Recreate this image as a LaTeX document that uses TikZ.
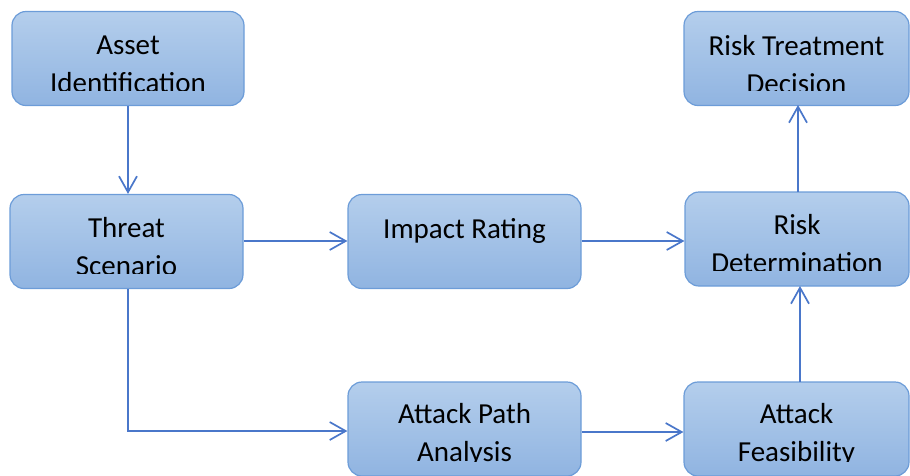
\documentclass[tikz,border=0pt]{standalone}
\usepackage{fontspec}
\setmainfont{Carlito}
\usetikzlibrary{arrows.meta}
\definecolor{boxtop}{HTML}{B4CEEC}
\definecolor{boxbot}{HTML}{90B4E1}
\definecolor{boxline}{HTML}{6C9CD8}
\definecolor{arrowcol}{HTML}{4A77CA}
\tikzset{
  box/.style={draw=boxline, line width=1.2pt, rounded corners=14pt, top color=boxtop, bottom color=boxbot, minimum width=#1, minimum height=94pt, inner sep=0pt},
  box/.default=232pt,
  txt/.style={font=\fontsize{29pt}{38pt}\selectfont, align=center, inner sep=0pt, text=black},
  conn/.style={draw=arrowcol, line width=1.7pt, -{Straight Barb[length=16pt,width=18pt,line width=1.7pt]}}
}
\begin{document}
\begin{tikzpicture}[x=1pt,y=-1pt]
\useasboundingbox (0,0) rectangle (910,475);
% boxes
\node[box=232pt] (asset) at (128,58.5) {};
\node[box=233pt] (threat) at (126.5,241.5) {};
\node[box=233pt] (impact) at (464.5,241.5) {};
\node[box=224pt] (riskdet) at (797,239) {};
\node[box=225pt] (risktreat) at (796.5,58.5) {};
\node[box=233pt] (apa) at (464.5,429) {};
\node[box=225pt] (feas) at (796.5,429) {};
% texts (clipped near box bottom)
\begin{scope}
\clip (0,0) rectangle (260,90);
\node[txt] (tasset) at (128,64.5) {Asset\\Identification};
\end{scope}
\begin{scope}
\clip (0,180) rectangle (260,273.5);
\node[txt] (tthreat) at (126.5,247) {Threat\\Scenario};
\end{scope}
\node[txt, anchor=base] (timpact) at (464.5,238.5) {Impact Rating};
\begin{scope}
\clip (670,180) rectangle (910,270);
\node[txt] (triskdet) at (797,244) {Risk\\Determination};
\end{scope}
\begin{scope}
\clip (670,0) rectangle (910,90);
\node[txt] (trisktreat) at (796.5,64.5) {Risk Treatment\\Decision};
\end{scope}
\begin{scope}
\clip (330,370) rectangle (600,461);
\node[txt] (tapa) at (464.5,434.5) {Attack Path\\Analysis};
\end{scope}
\begin{scope}
\clip (670,370) rectangle (910,461);
\node[txt] (tfeas) at (796.5,434.5) {Attack\\Feasibility};
\end{scope}
% connectors
\draw[conn] (asset.south) -- (asset.south |- threat.north);
\draw[conn] (threat.east |- 0,241) -- (impact.west |- 0,241);
\draw[conn] (impact.east |- 0,241) -- (riskdet.west |- 0,241);
\draw[conn] (128,289) -- (128,431) -- (apa.west |- 0,431);
\draw[conn] (apa.east |- 0,432) -- (feas.west |- 0,432);
\draw[conn] (800,382) -- (800,286);
\draw[conn] (798,192) -- (798,105);
\end{tikzpicture}
\end{document}
